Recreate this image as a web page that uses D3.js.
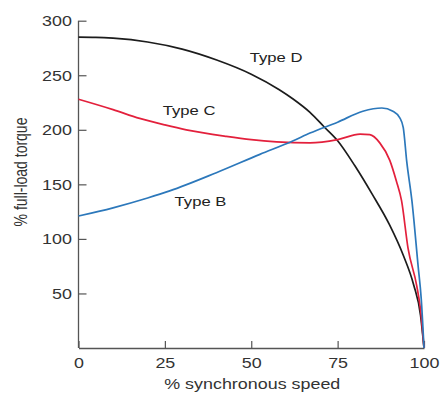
<!DOCTYPE html>
<html>
<head>
<meta charset="utf-8">
<script src="https://cdn.jsdelivr.net/npm/d3@7"></script>
<style>
  html, body { margin: 0; padding: 0; background: #fff; }
  svg { display: block; font-family: "Liberation Sans", Arial, sans-serif; }
</style>
</head>
<body>
<svg id="chart" width="441" height="397"></svg>
<script>
// ---- Data ----
const xTicks = [0, 25, 50, 75, 100];
const yTicks = [50, 100, 150, 200, 250, 300];
const xTitle = "% synchronous speed";
const yTitle = "% full-load torque";

const typeDSpeed  = [0, 5, 10, 20, 30, 40, 50, 58, 62, 67, 71, 75, 80, 85, 90, 94, 97, 99, 100];
const typeDTorque = [285, 284.8, 284, 280.5, 274, 264, 251, 237, 228.5, 216, 203, 190, 167, 141, 113, 85, 58, 30, 0];

const typeCSpeed  = [0, 10, 17.7, 25, 31.2, 42.8, 50, 57.3, 67, 75, 81.5, 84.3, 87.2, 90.1, 92, 93.5, 95.4, 97.9, 99, 100];
const typeCTorque = [228, 218.5, 210.5, 204.5, 200, 194, 191, 189, 188, 191, 196, 195.5, 188, 172, 153, 135, 91, 57, 35, 0];

const typeBSpeed  = [0, 10, 20, 26.4, 39.9, 52.5, 62, 67, 75, 82.3, 87.8, 91, 93, 94, 95, 96.5, 98.3, 99.2, 100];
const typeBTorque = [121, 128.5, 137.5, 144, 160.7, 177.5, 189.7, 197, 207, 217, 220, 217, 211, 202, 171, 135, 75, 45, 0];

const seriesNames  = ["Type D", "Type C", "Type B"];
const seriesColors = ["#1c1c1c", "#e3203c", "#2c78bb"];
const labelSpeed   = [57.2, 32, 35.3];   // label anchor positions in data units
const labelTorque  = [262, 213.5, 130];

// ---- Layout ----
const svg = d3.select("#chart");
const SX = 1.28; // horizontal stretch of the reference's text
const x = d3.scaleLinear().domain([0, 100]).range([78.5, 424]);
const y = d3.scaleLinear().domain([0, 300]).range([348, 20.7]);

const axisColor = "#555";
const textColor = "#333";

// X axis
const gx = svg.append("g").attr("transform", `translate(0,${y(0)})`)
  .call(d3.axisBottom(x).tickValues(xTicks).tickSizeInner(-7).tickSizeOuter(0).tickFormat(d => d));
gx.select(".domain").attr("stroke", axisColor).attr("stroke-width", 1.3);
gx.selectAll(".tick line").attr("stroke", axisColor).attr("stroke-width", 1.2);
gx.selectAll(".tick text")
  .attr("y", null).attr("dy", null)
  .attr("transform", `translate(0,20) scale(${SX},1)`)
  .attr("font-size", 14).attr("fill", textColor)
  .attr("font-family", "Liberation Sans, Arial, sans-serif");

// Y axis
const gy = svg.append("g").attr("transform", `translate(${x(0)},0)`)
  .call(d3.axisLeft(y).tickValues(yTicks).tickSizeInner(-8).tickSizeOuter(0).tickFormat(d => d));
gy.select(".domain").attr("stroke", axisColor).attr("stroke-width", 1.3)
  .attr("d", `M0,${y(300)}V${y(0)}`);
gy.selectAll(".tick line").attr("stroke", axisColor).attr("stroke-width", 1.2);
gy.selectAll(".tick text")
  .attr("x", null).attr("dy", "0.36em")
  .attr("text-anchor", "end")
  .attr("transform", `translate(-6.5,0) scale(${SX},1)`)
  .attr("font-size", 14).attr("fill", textColor)
  .attr("font-family", "Liberation Sans, Arial, sans-serif");

// Axis titles
svg.append("text")
  .attr("transform", `translate(${(x(0) + x(100)) / 2 + 1},389) scale(${SX},1)`)
  .attr("text-anchor", "middle").attr("font-size", 14).attr("fill", textColor)
  .text(xTitle);
svg.append("text")
  .attr("transform", `translate(27,172) rotate(-90) scale(1,${SX})`)
  .attr("text-anchor", "middle").attr("font-size", 14).attr("fill", textColor)
  .text(yTitle);

// Curves
const line = d3.line().x(d => x(d[0])).y(d => y(d[1])).curve(d3.curveMonotoneX);
const series = [
  d3.zip(typeDSpeed, typeDTorque),
  d3.zip(typeCSpeed, typeCTorque),
  d3.zip(typeBSpeed, typeBTorque)
];
svg.append("g").selectAll("path").data(series).join("path")
  .attr("d", line)
  .attr("fill", "none")
  .attr("stroke", (d, i) => seriesColors[i])
  .attr("stroke-width", 1.7)
  .attr("stroke-linejoin", "round");

// Series labels
svg.append("g").selectAll("text").data(seriesNames).join("text")
  .attr("transform", (d, i) => `translate(${x(labelSpeed[i])},${y(labelTorque[i])}) scale(${SX},1)`)
  .attr("text-anchor", "middle")
  .attr("font-size", 13)
  .attr("fill", "#222")
  .text(d => d);
</script>
</body>
</html>
